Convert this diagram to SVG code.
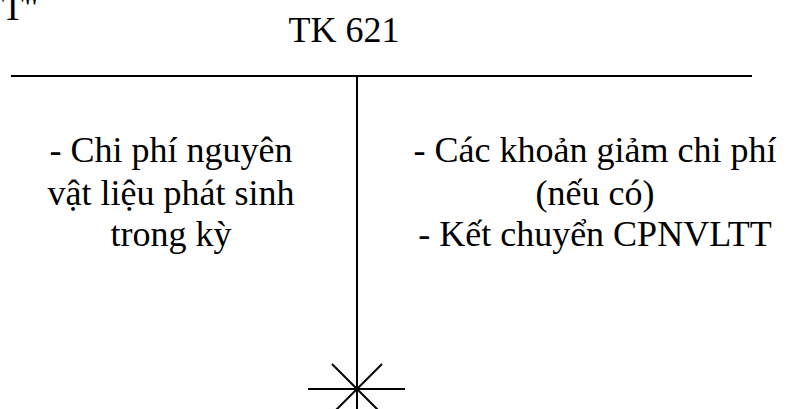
<svg xmlns="http://www.w3.org/2000/svg" width="791" height="409" viewBox="0 0 791 409">
<style>
text{font-family:"Liberation Serif","Times New Roman",serif;font-size:36px;fill:#000}
.c{text-anchor:middle}
line{stroke:#000;stroke-width:2}
</style>
<rect width="791" height="409" fill="#fff"/>
<g id="fragment"><text x="-13" y="20">"T"</text></g>
<g id="title"><text class="c" x="344" y="42">TK 621</text></g>
<g id="connectors">
<line x1="11" y1="76" x2="752" y2="76"/>
<line x1="357" y1="76" x2="357" y2="409"/>
<line x1="308" y1="389" x2="405" y2="389"/>
<line x1="332" y1="364" x2="382" y2="414"/>
<line x1="382" y1="364" x2="332" y2="414"/>
</g>
<g id="debit">
<text class="c" x="171" y="162">- Chi phí nguyên</text>
<text class="c" x="171" y="205">vật liệu phát sinh</text>
<text class="c" x="171" y="246">trong kỳ</text>
</g>
<g id="credit">
<text class="c" x="595" y="162">- Các khoản giảm chi phí</text>
<text class="c" x="595" y="205">(nếu có)</text>
<text class="c" x="595" y="246">- Kết chuyển CPNVLTT</text>
</g>
</svg>
